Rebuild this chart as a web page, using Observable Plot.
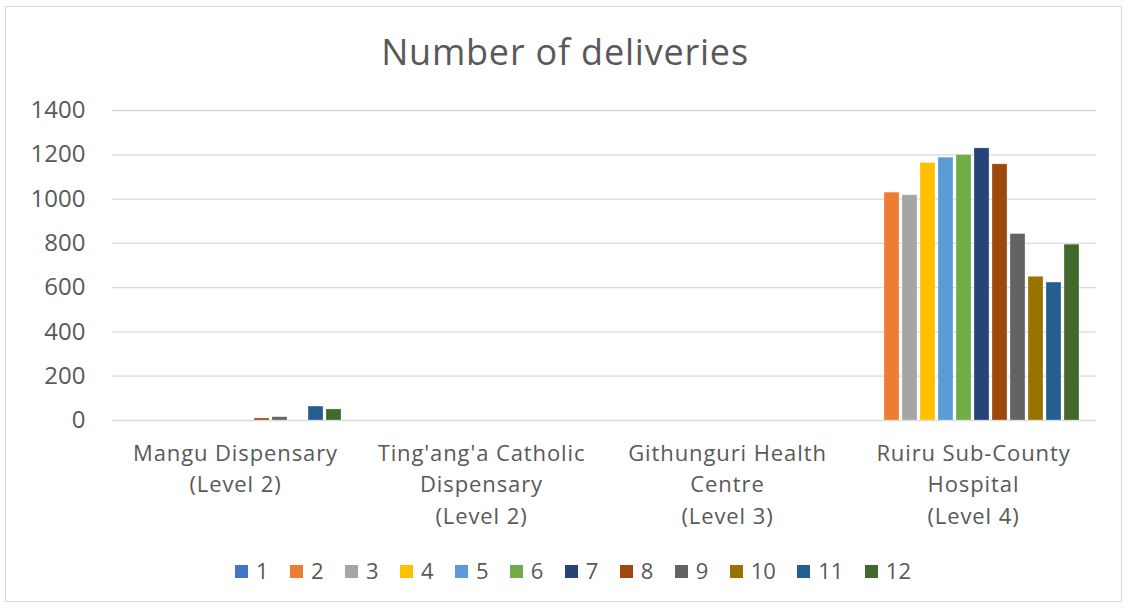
<!DOCTYPE html>
<html>
<head>
<meta charset="utf-8">
<script src="https://cdn.jsdelivr.net/npm/d3@7"></script>
<script src="https://cdn.jsdelivr.net/npm/@observablehq/plot@0.6"></script>
<style>
  html, body { margin: 0; padding: 0; background: #fff; }
  #wrap { position: relative; width: 1130px; height: 610px; overflow: hidden; font-family: "Open Sans", sans-serif; color: #595959; }
  #frame { position: absolute; left: 5px; top: 6px; width: 1117px; height: 596px; border: 1.5px solid #d9d9d9; box-sizing: border-box; }
  #title { position: absolute; left: 0; width: 1130px; top: 32px; line-height: 40px; text-align: center; font-size: 36px; letter-spacing: 0.8px; color: #595959; }
  #chart { position: absolute; left: 0; top: 0; }
  #legend { position: absolute; left: 8px; width: 1130px; top: 555px; display: flex; justify-content: center; font-size: 22px; line-height: 30px; color: #595959; }
  .item { display: flex; align-items: center; margin: 0 10.7px; }
  .sw { width: 13px; height: 13px; margin-right: 8px; margin-top: 2px; }
</style>
</head>
<body>
<div id="wrap">
  <div id="frame"></div>
  <div id="chart"></div>
  <div id="title">Number of deliveries</div>
  <div id="legend"></div>
</div>
<script>
// ---- data ----
const facilities = ["Mangu", "Tingang'a", "Githunguri", "Ruiru"];
const facilityLabels = [
  "Mangu Dispensary\n(Level 2)",
  "Ting'ang'a Catholic\nDispensary\n(Level 2)",
  "Githunguri Health\nCentre\n(Level 3)",
  "Ruiru Sub-County\nHospital\n(Level 4)"
];
const seriesNames = ["1","2","3","4","5","6","7","8","9","10","11","12"];
const manguValues      = [0, 0, 0, 0, 0, 0, 0, 9, 15, 0, 63, 50];
const tingangaValues   = [0, 0, 0, 0, 0, 0, 0, 0, 0, 0, 0, 0];
const githunguriValues = [0, 0, 0, 0, 0, 0, 0, 0, 0, 0, 0, 0];
const ruiruValues      = [0, 1029, 1017, 1163, 1187, 1199, 1229, 1157, 842, 649, 623, 794];
const seriesColors = ["#4472C4","#ED7D31","#A5A5A5","#FFC000","#5B9BD5","#70AD47","#264478","#9E480E","#636363","#997300","#255E91","#43682B"];
const yTicks = [0, 200, 400, 600, 800, 1000, 1200, 1400];

// ---- table ----
const valueSets = [manguValues, tingangaValues, githunguriValues, ruiruValues];
const rows = [];
facilities.forEach((f, i) => {
  seriesNames.forEach((s, j) => rows.push({facility: f, series: s, value: valueSets[i][j]}));
});
const labelOf = new Map(facilities.map((f, i) => [f, facilityLabels[i]]));

const font = "Open Sans, sans-serif";
const chart = Plot.plot({
  width: 1130,
  height: 610,
  marginTop: 110,
  marginBottom: 190,
  marginLeft: 110,
  marginRight: 33,
  style: {fontFamily: font, color: "#595959", background: "transparent", overflow: "visible"},
  fx: {domain: facilities, padding: 0, axis: null, label: null},
  x: {domain: seriesNames, paddingInner: 0.15, paddingOuter: 0.74, axis: null},
  y: {domain: [0, 1400], ticks: yTicks, axis: null},
  color: {domain: seriesNames, range: seriesColors},
  marks: [
    Plot.gridY(yTicks, {stroke: "#d9d9d9", strokeOpacity: 1, strokeWidth: 1.3}),
    Plot.axisY({ticks: yTicks, tickFormat: d => String(d), tickSize: 0, tickPadding: 27, fontSize: 24, fill: "#595959", label: null, facetAnchor: "left"}),
    Plot.barY(rows.filter(d => d.value > 0), {fx: "facility", x: "series", y: "value", fill: "series", stroke: "white", strokeOpacity: 0.35, strokeWidth: 0.8}),
    Plot.text(facilities, {fx: d => d, text: d => labelOf.get(d), frameAnchor: "bottom", dy: 18, lineAnchor: "top", lineHeight: 1.43, fontSize: 22, fill: "#595959"})
  ]
});
d3.select(chart).selectAll('g[aria-label="text"] text').style("letter-spacing", "0.9px");
document.getElementById("chart").appendChild(chart);

// ---- legend ----
const legend = document.getElementById("legend");
seriesNames.forEach((s, i) => {
  const it = document.createElement("div");
  it.className = "item";
  const sw = document.createElement("span");
  sw.className = "sw";
  sw.style.background = seriesColors[i];
  const t = document.createElement("span");
  t.textContent = s;
  it.appendChild(sw); it.appendChild(t);
  legend.appendChild(it);
});
</script>
</body>
</html>
